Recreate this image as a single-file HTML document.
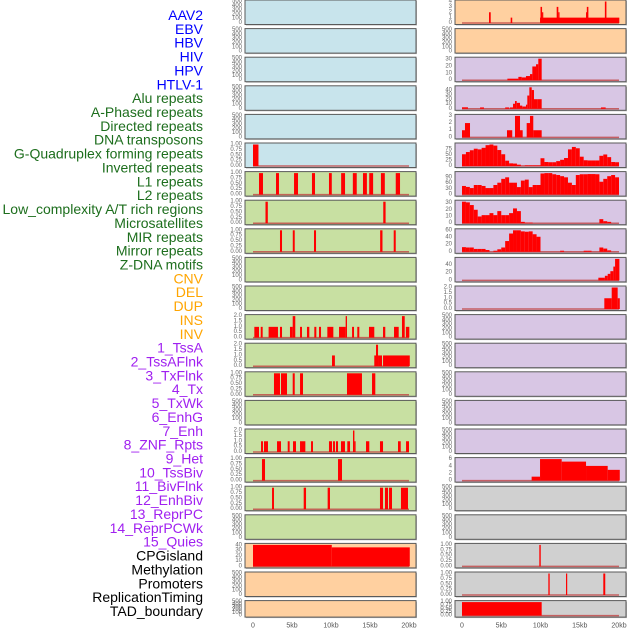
<!DOCTYPE html>
<html><head><meta charset="utf-8"><style>
html,body{margin:0;padding:0;background:#fff;}
svg{display:block;font-family:"Liberation Sans",sans-serif;}
</style></head><body>
<svg id="chart" width="630" height="630" viewBox="0 0 630 630" xmlns="http://www.w3.org/2000/svg"></svg>
<script>
// ---- track labels ----
const labelNames = ["AAV2","EBV","HBV","HIV","HPV","HTLV-1","Alu repeats","A-Phased repeats","Directed repeats","DNA transposons","G-Quadruplex forming repeats","Inverted repeats","L1 repeats","L2 repeats","Low_complexity A/T rich regions","Microsatellites","MIR repeats","Mirror repeats","Z-DNA motifs","CNV","DEL","DUP","INS","INV","1_TssA","2_TssAFlnk","3_TxFlnk","4_Tx","5_TxWk","6_EnhG","7_Enh","8_ZNF_Rpts","9_Het","10_TssBiv","11_BivFlnk","12_EnhBiv","13_ReprPC","14_ReprPCWk","15_Quies","CPGisland","Methylation","Promoters","ReplicationTiming","TAD_boundary"];
const labelGroups = [0,0,0,0,0,0,1,1,1,1,1,1,1,1,1,1,1,1,1,2,2,2,2,2,3,3,3,3,3,3,3,3,3,3,3,3,3,3,3,4,4,4,4,4];
const xTickValues = [0,5,10,15,20];
const xTickLabels = ["0","5kb","10kb","15kb","20kb"];

// ---- y tick sets ----
const ticksEmpty = [0,100,200,300,400,500];
const ticksUnit = [0,0.25,0.5,0.75,1];
const ticksTwo = [0,0.5,1,1.5,2];
const ticksCNV = [0,10,20,30,40];
const ticksINS = [0,1,2,3,4];
const ticksTssA = [0,10,20,30];
const ticksTssAFlnk = [0,10,20,30,40];
const ticksTxFlnk = [0,1,2,3];
const ticksTx = [0,25,50,75];
const ticksTxWk = [0,30,60,90];
const ticksEnhG = [0,10,20,30];
const ticksEnh = [0,20,40,60];
const ticksZNF = [0,20,40];
const ticksQuies = [0,2,4,6];

// ---- segment data [startKb, endKb, value] ----
const htlvSegs = [[0,0.7,1]];
const aluSegs = [[0.77,1.28,1],[2.95,3.33,1],[5.26,5.77,1],[7.56,7.95,1],[9.74,10.1,1],[11.3,11.8,1],[12.8,13.3,1],[14.1,14.6,1],[14.9,15.4,1],[16.4,16.9,1],[18.3,18.85,1]];
const aphasedSegs = [[1.6,1.9,1],[16.7,17.0,1]];
const directedSegs = [[3.46,3.72,1],[5.1,5.35,1],[7.82,8.08,1],[16.3,16.6,1],[18.04,18.3,1]];
const invertedSegs = [[0.17,0.77,1],[0.99,1.24,1],[2.0,3.2,1],[3.46,3.72,1],[4.74,5.09,1],[5.09,5.42,2],[6.03,6.28,1],[6.92,7.22,1],[7.86,8.12,1],[8.46,8.72,1],[9.53,10.3,1],[11.03,11.88,1],[11.88,12.05,2],[12.7,12.95,1],[13.37,13.63,1],[14.87,15.55,1],[16.67,16.96,1],[18.08,18.68,1],[19.1,19.45,2],[19.6,20.04,1]];
const l1Segs = [[10.13,10.5,1],[15.55,15.77,1],[15.77,16.03,2],[16.03,16.54,1],[16.67,20.1,1]];
const l2Segs = [[2.69,3.46,1],[3.59,4.36,1],[5.09,5.35,1],[6.03,6.41,1],[12.05,13.97,1],[15.26,15.68,1]];
const microSegs = [[1.03,1.28,1],[1.41,1.92,1],[3.08,3.59,1],[4.45,4.7,1],[5.13,5.51,1],[6.03,6.28,1],[6.28,6.71,1],[7.44,7.69,1],[9.74,10.13,1],[10.26,10.51,1],[10.64,10.9,1],[11.28,11.79,1],[12.09,12.44,1],[12.82,13.0,2],[13.0,13.1,1],[14.49,14.91,1],[16.28,16.67,1],[18.59,18.94,1],[19.62,20.0,1]];
const mirSegs = [[1.15,1.54,1],[10.9,11.41,1]];
const mirrorSegs = [[2.44,2.69,1],[6.5,6.8,1],[9.57,9.87,1],[16.28,16.67,1],[16.92,17.31,1],[17.44,17.82,1],[18.97,19.87,1]];
const cnvSegs = [[0,10.1,41],[10.1,20.1,36.3]];
const insSegs = [[3.44,3.66,2],[6.2,6.4,1],[9.94,20.04,1],[10.0,10.2,3],[10.2,10.35,2],[12.06,12.27,3],[12.27,12.4,2],[15.9,16.1,3],[15.8,15.9,2],[18.2,18.4,4]];
const tssASegs = [[5.78,7.18,2.2],[7.18,7.6,4.8],[7.6,8.15,4],[8.15,8.66,6],[8.66,8.96,8.8],[8.96,9.43,19.8],[9.43,9.72,23],[9.72,10.15,31]];
const tssAFlnkSegs = [[0,0.76,3.3],[2.3,2.8,3],[5.5,6.0,3],[6.1,6.5,3],[6.5,6.75,11],[6.75,6.97,17],[6.97,7.39,13],[7.39,7.68,7],[7.68,8.15,5],[8.15,8.32,9],[8.32,8.58,29],[8.58,8.88,47],[8.88,9.17,41],[9.17,9.6,21],[9.6,10.15,21],[17.7,18.3,3]];
const txFlnkSegs = [[0,0.38,1],[0.38,1.02,2],[5.73,6.4,1],[6.75,7.39,3],[7.39,7.73,1],[8.24,8.66,2],[8.66,9.08,3],[9.08,10.15,1]];
const znfSegs = [[17.37,18.2,7],[18.2,18.56,12],[18.56,18.9,17],[18.9,19.28,24],[19.28,19.5,36],[19.5,20.05,56]];
const hetSegs = [[18.13,19.07,1],[19.07,19.83,2],[19.83,20.1,1]];
const quiesSegs = [[8.87,9.94,1.1],[9.94,12.7,6],[12.7,15.8,5.3],[15.8,18.56,4.1],[18.56,20.1,3]];
const methylSegs = [[9.85,10.03,1]];
const promoterSegs = [[11.0,11.17,1],[13.25,13.4,1],[18.0,18.25,1]];
const tadSegs = [[0,10.15,1]];

// ---- binned data (0.5kb bins from 0kb) ----
const txBins = [53,63,71,78,75,82,94,97,92,72,53,24,12,11,6,1,3,3,3,3,35,18,17,17,22,28,36,75,86,80,42,26,25,25,25,46,52,40,18,17];
const txWkBins = [45,40,34,50,50,45,34,34,50,62,82,90,62,62,39,73,78,39,50,50,110,112,112,106,102,96,90,62,50,102,106,106,107,107,106,67,82,96,102,90];
const enhGBins = [32,31,27,20,10,12,12,15,12,18,12,12,15,22,18,2,1,1,0,0,0,0,0,0,0,0,0,0,0,0,0,0,0,0,0,6,3,2,0,0];
const enhBins = [13,12,12,8,8,8,5,0,3,7,12,30,51,60,60,57,56,57,49,42,0,0,0,0,0,3,0,0,0,0,0,3,3,0,0,12,9,4,0,0];

// ---- panels: column, row, background group, ticks, ymax, data ----
const panels = [
 {c:0,r:0,g:0,t:ticksEmpty,m:500},{c:0,r:1,g:0,t:ticksEmpty,m:500},{c:0,r:2,g:0,t:ticksEmpty,m:500},
 {c:0,r:3,g:0,t:ticksEmpty,m:500},{c:0,r:4,g:0,t:ticksEmpty,m:500},
 {c:0,r:5,g:0,t:ticksUnit,m:1,s:htlvSegs},
 {c:0,r:6,g:1,t:ticksUnit,m:1,s:aluSegs},{c:0,r:7,g:1,t:ticksUnit,m:1,s:aphasedSegs},
 {c:0,r:8,g:1,t:ticksUnit,m:1,s:directedSegs},{c:0,r:9,g:1,t:ticksEmpty,m:500},
 {c:0,r:10,g:1,t:ticksEmpty,m:500},{c:0,r:11,g:1,t:ticksTwo,m:2,s:invertedSegs},
 {c:0,r:12,g:1,t:ticksTwo,m:2,s:l1Segs},{c:0,r:13,g:1,t:ticksUnit,m:1,s:l2Segs},
 {c:0,r:14,g:1,t:ticksEmpty,m:500},{c:0,r:15,g:1,t:ticksTwo,m:2,s:microSegs},
 {c:0,r:16,g:1,t:ticksUnit,m:1,s:mirSegs},{c:0,r:17,g:1,t:ticksUnit,m:1,s:mirrorSegs},
 {c:0,r:18,g:1,t:ticksEmpty,m:500},
 {c:0,r:19,g:2,t:ticksCNV,m:41,s:cnvSegs},{c:0,r:20,g:2,t:ticksEmpty,m:500},{c:0,r:21,g:2,t:ticksEmpty,m:500},
 {c:1,r:0,g:2,t:ticksINS,m:4,s:insSegs},{c:1,r:1,g:2,t:ticksEmpty,m:500},
 {c:1,r:2,g:3,t:ticksTssA,m:31,s:tssASegs},{c:1,r:3,g:3,t:ticksTssAFlnk,m:47,s:tssAFlnkSegs},
 {c:1,r:4,g:3,t:ticksTxFlnk,m:3,s:txFlnkSegs},{c:1,r:5,g:3,t:ticksTx,m:97,b:txBins},
 {c:1,r:6,g:3,t:ticksTxWk,m:112,b:txWkBins},{c:1,r:7,g:3,t:ticksEnhG,m:32,b:enhGBins},
 {c:1,r:8,g:3,t:ticksEnh,m:60,b:enhBins},{c:1,r:9,g:3,t:ticksZNF,m:56,s:znfSegs},
 {c:1,r:10,g:3,t:ticksTwo,m:2,s:hetSegs},
 {c:1,r:11,g:3,t:ticksEmpty,m:500},{c:1,r:12,g:3,t:ticksEmpty,m:500},{c:1,r:13,g:3,t:ticksEmpty,m:500},
 {c:1,r:14,g:3,t:ticksEmpty,m:500},{c:1,r:15,g:3,t:ticksEmpty,m:500},
 {c:1,r:16,g:3,t:ticksQuies,m:6,s:quiesSegs},
 {c:1,r:17,g:4,t:ticksEmpty,m:500},{c:1,r:18,g:4,t:ticksEmpty,m:500},
 {c:1,r:19,g:4,t:ticksUnit,m:1,s:methylSegs},{c:1,r:20,g:4,t:ticksUnit,m:1,s:promoterSegs},
 {c:1,r:21,g:4,t:ticksUnit,m:1,s:tadSegs}
];

const NS = "http://www.w3.org/2000/svg";
const svg = document.getElementById('chart');
const labelColors = ["#0000ff","#1d6e1d","#ffa500","#a020f0","#000000"];
const bgColors = ["#c8e4ec","#c8e0a2","#ffd0a0","#d8c6e4","#d0d0d0"];
const colX = [245,455];
const panelW = 171;
function xScale(c,kb){ return (c===0?253:462) + kb*(c===0?7.8:7.85); }
function rowTop(r){ return r*28.6; }
function rowH(r){ return r===21?16.5:24.5; }
function yScale(p,v){ const t=rowTop(p.r),h=rowH(p.r); return t+h-1.5-(v/p.m)*(h-3); }
function mk(tag,attrs){ const e=document.createElementNS(NS,tag); for(const k in attrs) e.setAttribute(k,attrs[k]); return e; }
function fmt(tks,v){
  if(tks===ticksUnit) return v.toFixed(2);
  if(tks===ticksTwo) return v.toFixed(1);
  return String(v);
}

// labels
labelNames.forEach((n,i)=>{
  const t=mk('text',{x:203,y:15+i*13.86,'text-anchor':'end','dominant-baseline':'central','font-size':'14',fill:labelColors[labelGroups[i]]});
  
  
  t.textContent=n; svg.appendChild(t);
});

panels.forEach((p,pi)=>{
  const g=mk('g',{});
  
  
  const x0=colX[p.c], t=rowTop(p.r), h=rowH(p.r);
  const shadow=mk('rect',{x:x0+1,y:t+1,width:panelW,height:h,fill:'#b8b8b8'});
  g.appendChild(shadow);
  const bg=mk('rect',{x:x0,y:t,width:panelW,height:h,fill:bgColors[p.g],stroke:'#5a5a5a','stroke-width':'1'});
  
  
  g.appendChild(bg);
  // ticks
  p.t.forEach(v=>{
    const tx=mk('text',{x:x0-3,y:yScale(p,v),'text-anchor':'end','dominant-baseline':'central','font-size':'6',fill:'#666'});
    
    
    tx.textContent=fmt(p.t,v); g.appendChild(tx);
  });
  const hasData = p.s||p.b;
  if(hasData){
    const base=mk('line',{x1:xScale(p.c,0),x2:xScale(p.c,20),y1:yScale(p,0),y2:yScale(p,0),stroke:'#c04545','stroke-width':'1.5','stroke-opacity':'0.8'});
    
    
    g.appendChild(base);
  }
  const addBar=(a,b,v)=>{
    if(v<=0) return;
    const xa=xScale(p.c,a), xb=xScale(p.c,b);
    const ya=yScale(p,Math.min(v,p.m)), yb=yScale(p,0);
    const r=mk('rect',{x:xa,y:Math.max(ya,t+0.5),width:Math.max(xb-xa,1.2),height:yb-Math.max(ya,t+0.5),fill:'#ff0000'});
    
    
    g.appendChild(r);
  };
  if(p.s) p.s.forEach(s=>addBar(s[0],s[1],s[2]));
  if(p.b) p.b.forEach((v,i)=>addBar(i*0.5,i*0.5+0.5,v));
  svg.appendChild(g);
});

// x axes
[0,1].forEach(c=>{
  xTickValues.forEach((v,i)=>{
    const t=mk('text',{x:xScale(c,v),y:626,'text-anchor':'middle','dominant-baseline':'central','font-size':'7',fill:'#555'});
    
    
    t.textContent=xTickLabels[i]; svg.appendChild(t);
  });
});
</script>
</body></html>
